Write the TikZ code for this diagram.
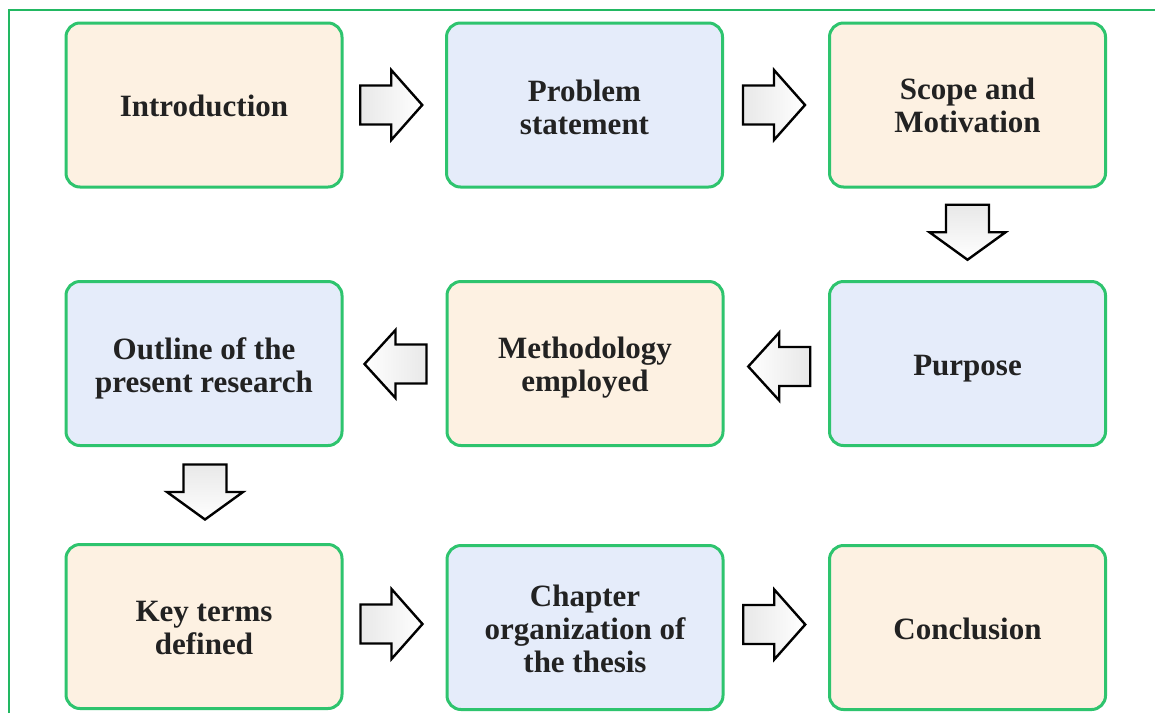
\documentclass[tikz,border=0pt]{standalone}
\usepackage{fontspec}
\setmainfont{Liberation Serif}
\usetikzlibrary{calc}
\definecolor{framegreen}{HTML}{22B862}
\definecolor{boxgreen}{HTML}{2EC46E}
\definecolor{warmfill}{HTML}{FDF1E2}
\definecolor{coolfill}{HTML}{E5ECFA}
\definecolor{inkgray}{HTML}{222222}
\tikzset{
  stagebox/.style={draw=boxgreen, line width=3pt, rounded corners=14pt,
    minimum width=276pt, minimum height=164pt, inner sep=0pt},
  warm/.style={stagebox, fill=warmfill},
  cool/.style={stagebox, fill=coolfill},
  stagetext/.style={align=center, text=inkgray, inner sep=0pt,
    font=\bfseries\fontsize{31}{33}\selectfont},
  blockarrow/.style={draw=black, line width=2.4pt, line join=miter},
  pics/goright/.style={code={
    \path[blockarrow, left color=gray!18, right color=white]
      (-31,-19.5) -- (0,-19.5) -- (0,-35) -- (31,0) -- (0,35) -- (0,19.5) -- (-31,19.5) -- cycle;}},
  pics/goleft/.style={code={
    \path[blockarrow, right color=gray!18, left color=white]
      (31,-19.5) -- (0,-19.5) -- (0,-34) -- (-31,0) -- (0,34) -- (0,19.5) -- (31,19.5) -- cycle;}},
  pics/godown/.style={code={
    \path[blockarrow, top color=gray!18, bottom color=white]
      (-21.5,-27.5) -- (21.5,-27.5) -- (21.5,0) -- (38,0) -- (0,27.5) -- (-38,0) -- (-21.5,0) -- (-21.5,-27.5) -- cycle;}}
}
\begin{document}
\begin{tikzpicture}[x=1pt, y=-1pt]
\useasboundingbox (0,0) rectangle (1155,713);
\fill[white] (0,0) rectangle (1155,713);

% outer frame lines
\draw[framegreen, line width=2pt] (9,713) -- (9,10) -- (1155,10);

% stage boxes
\node[warm] (intro)   at (204,105)     {};
\node[cool] (problem) at (584.5,105)   {};
\node[warm] (scope)   at (967.5,105)   {};
\node[cool] (outline) at (204,363.5)   {};
\node[warm] (method)  at (585,363.5)   {};
\node[cool] (purpose) at (967.5,363.5) {};
\node[warm] (terms)   at (204,626.5)   {};
\node[cool] (chapter) at (585,627.5)   {};
\node[warm] (concl)   at (967.5,627.5) {};

% stage titles
\node[stagetext] (intro-t)   at ($(intro)+(0,1)$)     {Introduction};
\node[stagetext] (problem-t) at ($(problem)+(0,2)$)   {Problem\\statement};
\node[stagetext] (scope-t)   at ($(scope)+(0,0)$)     {Scope and\\Motivation};
\node[stagetext] (outline-t) at ($(outline)+(0,4.5)$) {Outline of the\\present research};
\node[stagetext] (method-t)  at ($(method)+(0,4.5)$)  {Methodology\\employed};
\node[stagetext] (purpose-t) at ($(purpose)+(0,5)$)   {Purpose};
\node[stagetext] (terms-t)   at ($(terms)+(0,1)$)     {Key terms\\defined};
\node[stagetext] (chapter-t) at ($(chapter)+(0,1.5)$) {Chapter\\organization of\\the thesis};
\node[stagetext] (concl-t)   at ($(concl)+(0,1)$)     {Conclusion};

% flow arrows between stages
\pic at ($($(intro.east)!0.5!(problem.west)$)+(-3,0)$) {goright};
\pic at ($($(problem.east)!0.5!(scope.west)$)+(-2,0)$) {goright};
\pic at ($($(scope.south)!0.5!(purpose.north)$)+(0,-2)$) {godown};
\pic at ($($(purpose.west)!0.5!(method.east)$)+(3,3)$) {goleft};
\pic at ($($(method.west)!0.5!(outline.east)$)+(1,0.5)$) {goleft};
\pic at ($($(outline.south)!0.5!(terms.north)$)+(1,-3)$) {godown};
\pic at ($($(terms.east)!0.5!(chapter.west)$)+(-3,-3)$) {goright};
\pic at ($($(chapter.east)!0.5!(concl.west)$)+(-2,-3)$) {goright};
\end{tikzpicture}
\end{document}
